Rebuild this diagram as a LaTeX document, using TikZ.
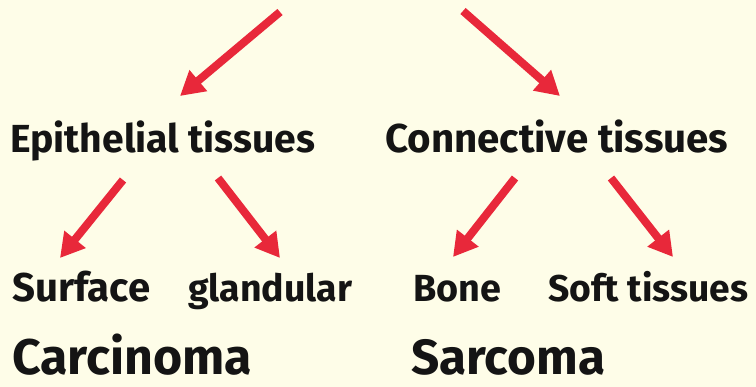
\documentclass[tikz,border=0pt]{standalone}
\usepackage{fontspec}
\usepackage{graphicx}
\setmainfont{Fira Sans}
\usetikzlibrary{arrows.meta}
\definecolor{bgcream}{HTML}{FEFDE8}
\definecolor{arrred}{HTML}{E8283A}
\tikzset{
  lbl/.style={anchor=base west, inner sep=0pt, font=\bfseries, text=black!92},
  redarrow/.style={draw=arrred, line width=8pt, -{Triangle[width=26pt,length=24pt]}},
}
\newcommand{\fitw}[2]{\resizebox{#1}{!}{#2}}
\begin{document}
\begin{tikzpicture}[x=1pt,y=-1pt]
\fill[bgcream] (0,0) rectangle (756,387);
\useasboundingbox (0,0) rectangle (756,387);
% labels
\node[lbl] (epi) at (10,153) {\fitw{305pt}{Epithelial tissues}};
\node[lbl] (con) at (385,153) {\fitw{343pt}{Connective tissues}};
\node[lbl] (sur) at (12,302) {\fitw{138pt}{Surface}};
\node[lbl] (gla) at (188,302) {\fitw{164pt}{glandular}};
\node[lbl] (bon) at (413,302) {\fitw{88pt}{Bone}};
\node[lbl] (sof) at (548,302) {\fitw{200pt}{Soft tissues}};
\node[lbl] (car) at (12,375) {\fitw{240pt}{Carcinoma}};
\node[lbl] (sar) at (411,375) {\fitw{194pt}{Sarcoma}};
% arrow ends
\coordinate (t1s) at (280,12);  \coordinate (t1e) at (180,96);
\coordinate (t2s) at (463,11);  \coordinate (t2e) at (560,96);
\coordinate (e1s) at (123,180); \coordinate (e1e) at (60,258);
\coordinate (e2s) at (218,178); \coordinate (e2e) at (280,258);
\coordinate (c1s) at (515,178); \coordinate (c1e) at (453,257);
\coordinate (c2s) at (611,178); \coordinate (c2e) at (673,257);
\draw[redarrow] (t1s) -- (t1e);
\draw[redarrow] (t2s) -- (t2e);
\draw[redarrow] (e1s) -- (e1e);
\draw[redarrow] (e2s) -- (e2e);
\draw[redarrow] (c1s) -- (c1e);
\draw[redarrow] (c2s) -- (c2e);
\end{tikzpicture}
\end{document}
